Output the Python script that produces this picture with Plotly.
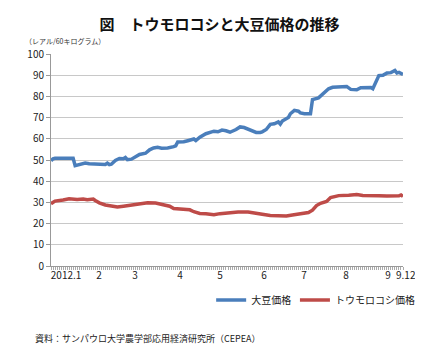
import plotly.graph_objects as go

# Trading-day index (0 = 2012/1/2 ... 175 = 2012/9/12) and prices (レアル/60kg)
soy_day = [0, 1, 2, 11, 12, 14, 17, 19, 23, 27, 28, 29, 30, 32, 34, 36, 37, 38, 40, 42,
           44, 47, 49, 51, 53, 55, 58, 61, 62, 63, 66, 68, 71, 72, 74, 77, 79, 81, 83, 85,
           87, 89, 92, 94, 96, 98, 100, 102, 104, 105, 107, 109, 111, 113, 114, 115, 118, 119, 121, 123,
           124, 126, 129, 130, 133, 134, 136, 138, 140, 143, 147, 149, 152, 154, 157, 159, 160, 161, 163, 165,
           167, 169, 171, 172, 173, 175]
soy_price = [49.6, 50.6, 50.8, 50.8, 47.3, 47.8, 48.6, 48.2, 47.9, 47.9, 48.5, 47.8, 48.0, 49.8, 50.7, 50.6, 51.2, 50.2, 50.4, 51.5,
             52.6, 53.2, 54.8, 55.7, 56.0, 55.6, 55.7, 56.3, 56.7, 58.5, 58.6, 59.1, 59.9, 59.2, 60.8, 62.4, 63.0, 63.6, 63.3, 64.1,
             63.8, 63.1, 64.4, 65.6, 65.3, 64.6, 64.1, 63.0, 63.0, 63.3, 64.4, 66.8, 67.1, 68.0, 66.9, 68.4, 70.0, 71.8, 73.4, 73.0,
             72.2, 71.8, 71.8, 78.5, 79.3, 80.2, 82.1, 83.6, 84.3, 84.3, 84.7, 83.3, 83.1, 84.1, 84.3, 84.2, 83.6, 86.0, 89.8, 90.0,
             91.0, 91.2, 92.2, 91.0, 91.3, 90.4]

corn_day = [0, 2, 6, 9, 13, 16, 18, 21, 22, 24, 27, 30, 33, 36, 39, 42, 46, 48, 52, 54,
            57, 59, 61, 64, 67, 69, 71, 74, 77, 81, 84, 88, 93, 98, 102, 105, 109, 113, 117, 120,
            124, 128, 130, 132, 134, 137, 139, 143, 148, 152, 155, 159, 163, 167, 170, 173, 174, 175]
corn_price = [29.4, 30.6, 31.1, 31.7, 31.4, 31.6, 31.3, 31.6, 30.9, 29.8, 28.8, 28.4, 27.8, 28.2, 28.6, 29.1, 29.6, 29.8, 29.7, 29.2,
              28.6, 28.2, 27.1, 26.8, 26.6, 26.5, 25.6, 24.8, 24.6, 24.2, 24.7, 25.1, 25.5, 25.5, 25.1, 24.4, 23.8, 23.5, 23.6, 24.1,
              24.6, 25.2, 26.3, 28.5, 29.6, 30.4, 32.3, 33.2, 33.4, 33.7, 33.3, 33.0, 33.1, 33.0, 33.0, 33.1, 33.5, 32.8]

tick_pos = [7.5, 23.9, 41.8, 64.1, 84.0, 105.9, 125.8, 146.7, 167.6]
tick_text = ["2012.1", "2", "3", "4", "5", "6", "7", "8", "9"]
last_label = "9.12"

series_names = ["大豆価格", "トウモロコシ価格"]
title_text = "図　トウモロコシと大豆価格の推移"
unit_text = "（レアル/60キログラム）"
source_text = "資料：サンパウロ大学農学部応用経済研究所（CEPEA）"

FONT = "Noto Sans CJK JP"

fig = go.Figure()
fig.add_trace(go.Scatter(x=soy_day, y=soy_price, mode="lines", name=series_names[0],
                         line=dict(color="#4A7EBB", width=3.5), legend="legend"))
fig.add_trace(go.Scatter(x=corn_day, y=corn_price, mode="lines", name=series_names[1],
                         line=dict(color="#BE4B48", width=3.5), legend="legend2"))

legend_common = dict(orientation="h", xanchor="left", yanchor="middle", y=-0.16,
                     font=dict(size=10, color="#222"), itemwidth=30,
                     bgcolor="rgba(0,0,0,0)", borderwidth=0)

fig.update_layout(
    width=423, height=358,
    margin=dict(l=43, r=28, t=46, b=100, autoexpand=False),
    paper_bgcolor="white", plot_bgcolor="white",
    font=dict(family=FONT, color="#222"),
    title=dict(text=f"<b>{title_text}</b>", x=0.5, xref="container", y=1 - 17 / 358,
               yanchor="middle", font=dict(size=15, color="#111")),
    showlegend=True,
    legend=dict(x=0.455, **legend_common),
    legend2=dict(x=0.693, **legend_common),
    xaxis=dict(range=[0, 175], tickmode="array", tickvals=tick_pos, ticktext=tick_text,
               ticks="", showgrid=False, zeroline=False, showline=True, linecolor="#999",
               linewidth=1, tickfont=dict(size=10, color="#222"), automargin=False,
               minor=dict(ticks="outside", dtick=1, tick0=0, ticklen=3, tickcolor="#aaa",
                          showgrid=False)),
    yaxis=dict(range=[0, 100], dtick=10, showgrid=True, gridcolor="#C8C8C8", gridwidth=1,
               zeroline=False, showline=True, linecolor="#999", linewidth=1,
               ticks="outside", ticklen=4, tickcolor="#999", automargin=False,
               tickfont=dict(size=10, color="#222")),
    annotations=[
        dict(text=unit_text, xref="paper", yref="paper", x=-0.08, y=1.062,
             xanchor="left", yanchor="middle", showarrow=False, font=dict(size=7, color="#333")),
        dict(text=last_label, xref="paper", yref="paper", x=1.0085, y=0,
             xanchor="center", yanchor="middle", yshift=-8, showarrow=False,
             font=dict(size=10, color="#222")),
        dict(text=source_text, xref="paper", yref="paper", x=-0.051, y=-0.341,
             xanchor="left", yanchor="middle", showarrow=False, font=dict(size=9, color="#222")),
    ],
)

fig.write_html("out.html")
